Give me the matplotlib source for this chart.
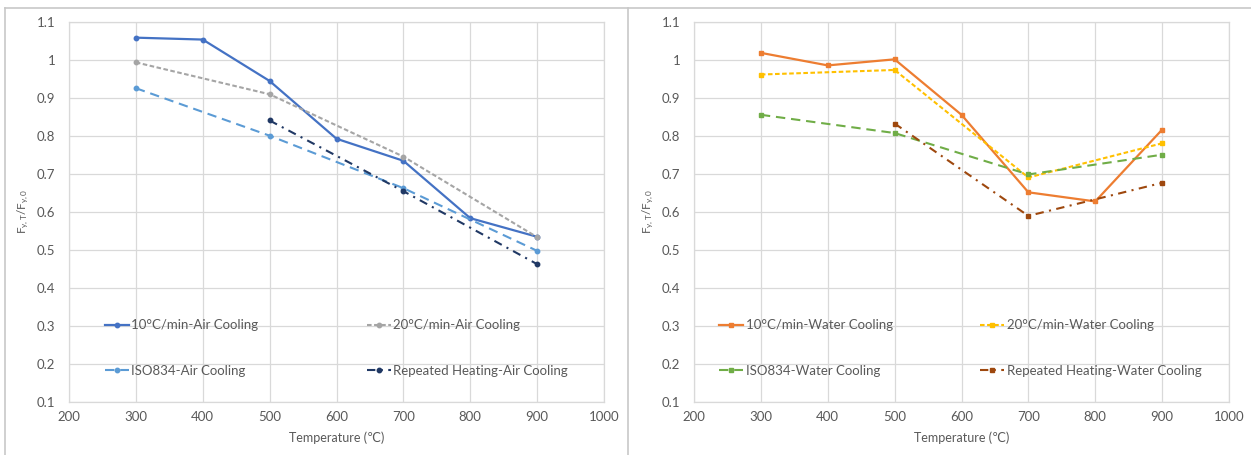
import matplotlib
matplotlib.use("Agg")
import matplotlib.pyplot as plt
from matplotlib.lines import Line2D
from matplotlib.legend import Legend

plt.rcParams['font.family'] = ['Lato', 'DejaVu Sans']
plt.rcParams['mathtext.fontset'] = 'custom'
plt.rcParams['mathtext.rm'] = 'Lato'
plt.rcParams['mathtext.it'] = 'Lato'

# -----------------------
# Data
# -----------------------
temp_full = [300, 400, 500, 600, 700, 800, 900]
temp_step = [300, 500, 700, 900]
temp_rep = [500, 700, 900]

air_10 = [1.058, 1.053, 0.944, 0.792, 0.734, 0.583, 0.534]
air_20 = [0.993, 0.909, 0.745, 0.533]
air_iso = [0.925, 0.800, 0.662, 0.497]
air_rep = [0.840, 0.654, 0.462]

water_10 = [1.018, 0.985, 1.001, 0.855, 0.651, 0.627, 0.816]
water_20 = [0.961, 0.973, 0.690, 0.780]
water_iso = [0.855, 0.807, 0.698, 0.750]
water_rep = [0.832, 0.589, 0.676]

x_ticks = [200, 300, 400, 500, 600, 700, 800, 900, 1000]
y_ticks = [0.1, 0.2, 0.3, 0.4, 0.5, 0.6, 0.7, 0.8, 0.9, 1.0, 1.1]

TXT = '#595959'
GRID = '#D9D9D9'

SHORT_DASH = (0, (2.2, 1.2))
LONG_DASH = (0, (4.5, 2.8))
DASH_DOT = (0, (4, 2.6, 1, 2.6))

fig = plt.figure(figsize=(12.51, 4.55), dpi=100)
W, H = 1251, 455

# panel frames
def hline(x0, x1, y):
    fig.add_artist(Line2D([x0 / W, x1 / W], [1 - y / H, 1 - y / H], color='#C8C8C8', lw=1.2))

def vline(x, y0, y1):
    fig.add_artist(Line2D([x / W, x / W], [1 - y0 / H, 1 - y1 / H], color='#C8C8C8', lw=1.2))

hline(5, 1251, 8)
vline(5, 8, 455)
vline(628, 8, 455)


def setup_axes(ax):
    ax.set_xlim(200, 1000)
    ax.set_ylim(0.1, 1.1)
    ax.set_xticks(x_ticks)
    ax.set_yticks(y_ticks)
    ax.set_yticklabels([f"{v:g}" for v in y_ticks])
    ax.tick_params(length=0, labelsize=9.5, colors=TXT)
    ax.tick_params(axis='y', pad=10)
    ax.tick_params(axis='x', pad=7)
    ax.grid(True, color=GRID, lw=0.9)
    ax.set_axisbelow(True)
    for s in ax.spines.values():
        s.set_color(GRID)
        s.set_linewidth(0.9)
    ax.set_xlabel("Temperature (℃)", fontsize=9, color=TXT, labelpad=6)
    ax.set_ylabel(r"F$_{\mathregular{y,T}}$/F$_{\mathregular{y,0}}$", fontsize=8.5, color=TXT, labelpad=4)


def add_legends(ax, handles, labels, x1, x2):
    kw = dict(frameon=False, fontsize=9.5, labelcolor=TXT, handlelength=1.8,
              handletextpad=0.2, labelspacing=2.55, borderpad=0, borderaxespad=0,
              loc='center left')
    leg1 = Legend(ax, handles[:2], labels[:2], bbox_to_anchor=(x1, 0.141), **kw)
    leg2 = Legend(ax, handles[2:], labels[2:], bbox_to_anchor=(x2, 0.141), **kw)
    ax.add_artist(leg1)
    ax.add_artist(leg2)


# =========================================================
# Air cooling
# =========================================================
ax1 = fig.add_axes([69 / W, 1 - 401.7 / H, 535 / W, 380 / H])
setup_axes(ax1)
l1, = ax1.plot(temp_full, air_10, color='#4472C4', lw=1.6, marker='o', ms=3.2)
l2, = ax1.plot(temp_step, air_20, color='#A5A5A5', lw=1.5, ls=SHORT_DASH, marker='o', ms=3.2)
l3, = ax1.plot(temp_step, air_iso, color='#5B9BD5', lw=1.5, ls=LONG_DASH, marker='o', ms=3.2)
l4, = ax1.plot(temp_rep, air_rep, color='#203864', lw=1.5, ls=DASH_DOT, marker='o', ms=3.2)
add_legends(ax1, [l1, l3, l2, l4],
            ["10°C/min-Air Cooling", "ISO834-Air Cooling",
             "20°C/min-Air Cooling", "Repeated Heating-Air Cooling"],
            0.067, 0.557)

# =========================================================
# Water cooling
# =========================================================
ax2 = fig.add_axes([694 / W, 1 - 401.7 / H, 535 / W, 380 / H])
setup_axes(ax2)
m1, = ax2.plot(temp_full, water_10, color='#ED7D31', lw=1.6, marker='s', ms=3.2)
m2, = ax2.plot(temp_step, water_20, color='#FFC000', lw=1.5, ls=SHORT_DASH, marker='s', ms=3.2)
m3, = ax2.plot(temp_step, water_iso, color='#70AD47', lw=1.5, ls=LONG_DASH, marker='s', ms=3.2)
m4, = ax2.plot(temp_rep, water_rep, color='#9E480E', lw=1.5, ls=DASH_DOT, marker='s', ms=3.2)
add_legends(ax2, [m1, m3, m2, m4],
            ["10°C/min-Water Cooling", "ISO834-Water Cooling",
             "20°C/min-Water Cooling", "Repeated Heating-Water Cooling"],
            0.047, 0.535)

fig.savefig("out.png", dpi=100, facecolor='white')
